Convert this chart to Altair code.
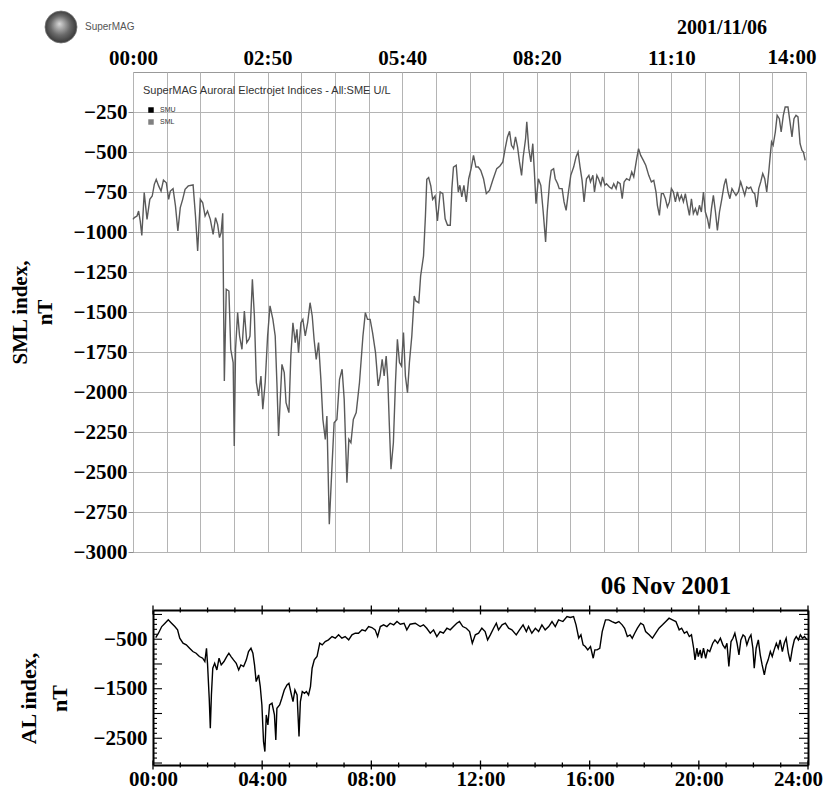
import altair as alt
import pandas as pd

# ---------------- data ----------------
# SuperMAG SML index, minutes after 00:00 UT on 2001-11-06
SML_MIN = [0, 1.7, 5, 7, 9, 11, 14, 17.5, 21, 24, 26.6, 29, 32, 35, 38, 41.6, 44.5, 46.6, 50, 53,
           56, 59, 62, 65, 69, 75, 78, 80.7, 84, 87, 90, 93, 96.5, 100, 103, 105.6, 108, 110, 112, 114,
           116.4, 119.7, 122, 125, 126.4, 128, 130.6, 133, 136, 139, 142, 144.7, 146, 149, 151.5, 154,
           156.7, 159.7, 162, 165, 168, 171, 174.6, 177.5, 179.6, 181.7, 183.8, 185.9, 188.8, 191,
           194.6, 197, 199.6, 202.5, 204.6, 206.6, 209.6, 212, 215, 218, 221, 223.7, 226, 228.7,
           231.6, 234.5, 237, 240, 242, 245, 248, 251, 254.5, 257.8, 261, 263.6, 267, 269.4, 272, 275,
           278.6, 282.7, 287, 290, 292.7, 296, 299, 302.7, 306, 308.5, 311, 313.5, 316, 318, 320, 322,
           325, 327.6, 330, 332.6, 335, 337.6, 340, 342.6, 345, 348, 351, 353, 356.7, 359, 362.6, 365,
           366.7, 369, 371.7, 374, 377, 380,
           383.4, 386.7, 389.6, 392.6, 396, 398, 400, 403.4, 406, 408, 410.4, 413, 416, 419, 422, 425,
           428, 431, 434, 437.5, 441, 445, 449, 454, 458, 461.6, 464.5, 467.4, 470, 472.4, 475, 477.4,
           480, 482.4, 485, 487, 490, 491.5, 494, 496.6, 499, 501, 503, 506, 509, 512, 515, 517, 520,
           522, 525, 527, 530, 532, 535.6, 538, 540.6, 543.5, 546.4, 550, 553, 555.5, 558, 560.5, 563,
           566, 569, 571, 574, 576, 579, 581, 584, 586, 589, 591, 594.6, 597.6, 600, 603, 605, 608,
           610.6, 613, 616, 619.6, 622.5, 625, 628.7, 631, 633.7, 637, 640, 643.7, 647, 650, 652.8,
           654.5, 657, 659.5, 662, 664.5, 667, 669.5, 672, 674.5, 677, 679.5, 682, 684.5, 687, 689.4,
           692, 694.5, 697, 699.4, 702, 704.4, 707, 709.4, 712, 714.4, 717, 719.4, 722, 724.4, 727,
           729.4, 732, 735, 737.7, 740, 742.7, 745, 747.6, 750, 752.6, 755.5, 758.5, 761, 763.5, 766,
           768.5, 771, 773.5, 776, 778.5, 781, 783.5, 786, 788.5, 791, 793.5, 795, 797, 799, 801.7,
           804, 806.7, 809, 811.7, 814, 817.5, 820, 822.5, 825, 827.5, 830, 832.6, 835, 836.8, 839]
SML_VAL = [-921, -910, -900, -869, -931, -1021, -754, -921, -796, -775, -702, -671, -712, -744, -675,
           -692, -796, -744, -729, -837, -994, -848, -796, -733, -712, -706, -900, -1119, -796, -817,
           -900, -869, -921, -1015, -910, -952, -1035, -1004, -883, -1931, -1358, -1369, -1733, -1816,
           -2337, -1733, -1504, -1650, -1733, -1494, -1691, -1670, -1650, -1296, -1525, -1941, -2025,
           -1900, -2108, -1941, -1650, -1462, -1546, -1650, -1941, -2275, -2046, -1827, -1879, -2067,
           -2129, -1775, -1567, -1691, -1608, -1754, -1567, -1546, -1650, -1567, -1442, -1525, -1670,
           -1796, -1691, -1921, -2171, -2296, -2150, -2827, -2504, -2192, -2171, -1921, -1858, -2046,
           -2567, -2296, -2317, -2171, -2129, -1941, -1650, -1504, -1546, -1546, -1629, -1754, -1962,
           -1900, -1796, -1900, -1775, -1921, -2212, -2483, -2317, -1941, -1670, -1816, -1837, -1629,
           -1900, -2004, -1816, -1650, -1400, -1431, -1442, -1275, -1150, -900, -671, -660, -712, -796,
           -775, -931,
           -750, -760, -917, -958, -958, -729, -594, -583, -750, -708, -781, -708, -812, -667, -604,
           -521, -594, -594, -615, -667, -760, -740, -677, -604, -587, -562, -479, -406, -371, -458,
           -479, -406, -469, -562, -646, -531, -417, -312, -479, -562, -448, -625, -823, -667, -708,
           -875, -1062, -875, -687, -615, -604, -667, -698, -729, -729, -812, -865, -750, -646, -594,
           -531, -500, -594, -677, -812, -667, -646, -687, -646, -750, -646, -667, -708, -656, -708,
           -698, -719, -729, -698, -729, -687, -698, -792, -687, -667, -677, -625, -656, -542, -479,
           -521, -552, -583, -646, -687, -677, -750, -833, -896, -760, -760, -792, -844, -812, -729,
           -750, -812, -750, -802, -771, -812, -760, -833, -896, -792, -885, -854, -896, -833, -875,
           -750, -875, -917, -979, -854, -771, -875, -990, -875, -792, -708, -667, -750, -792, -729,
           -750, -771, -750, -687, -729, -771, -719, -729, -719, -750, -760, -844, -729, -687, -635,
           -667, -750, -625, -542, -437, -458, -375, -271, -292, -375, -271, -219, -219, -312, -406,
           -292, -271, -281, -448, -490, -500, -552]

# AL index, hours UT on 06 Nov 2001
AL_HOUR = [0.1, 0.2, 0.32, 0.44, 0.56, 0.68, 0.8, 0.9, 0.98, 1.1, 1.22, 1.34, 1.46, 1.58, 1.7, 1.82,
           1.9, 1.96, 2.0, 2.06, 2.1, 2.14, 2.19, 2.26, 2.34, 2.42, 2.5, 2.6, 2.7, 2.78, 2.86, 2.95,
           3.05, 3.14, 3.22, 3.32, 3.42, 3.5, 3.59, 3.66, 3.72, 3.78, 3.87, 3.93, 3.99, 4.05, 4.1,
           4.15, 4.21, 4.27, 4.36, 4.45, 4.5, 4.54, 4.64, 4.72, 4.81, 4.91, 4.98, 5.06, 5.13, 5.2,
           5.28, 5.35, 5.4, 5.47, 5.55, 5.62, 5.7, 5.77, 5.83, 5.91, 6.01, 6.11, 6.2, 6.31, 6.43, 6.56,
           6.68, 6.8, 6.92, 7.04, 7.17, 7.29, 7.41, 7.53, 7.66, 7.78, 7.9, 8.02, 8.14, 8.23, 8.33,
           8.45, 8.57, 8.69, 8.82, 8.94, 9.06, 9.2, 9.3,
           9.42, 9.61, 9.79, 9.91, 10.03, 10.16, 10.28, 10.4, 10.52, 10.64, 10.77, 10.89, 11.01,
           11.13, 11.23, 11.35, 11.48, 11.6, 11.7, 11.81, 11.93, 12.05, 12.17, 12.26, 12.36, 12.48,
           12.58, 12.66, 12.79, 12.91, 13.03, 13.15, 13.31, 13.43, 13.56, 13.68, 13.76, 13.88, 14.01,
           14.13, 14.25, 14.37, 14.5, 14.62, 14.74, 14.86, 15.02, 15.17, 15.29, 15.41, 15.5, 15.6,
           15.68, 15.76, 15.84, 15.93, 16.03, 16.13, 16.19, 16.27, 16.37, 16.46, 16.58, 16.7, 16.82,
           16.95, 17.07, 17.19, 17.28, 17.38, 17.48, 17.56, 17.65, 17.75, 17.87, 17.97, 18.05, 18.18,
           18.3, 18.42, 18.54, 18.67, 18.79, 18.91, 19.03, 19.16, 19.28, 19.37, 19.47, 19.56, 19.65,
           19.73, 19.81, 19.86, 19.93, 19.98, 20.05, 20.1, 20.17, 20.25, 20.32, 20.4, 20.51, 20.59,
           20.69, 20.79, 20.88, 20.96, 21.03, 21.1, 21.18, 21.25, 21.32, 21.4, 21.47, 21.54, 21.62,
           21.69, 21.76, 21.84, 21.91, 21.98, 22.03, 22.1, 22.18, 22.25, 22.32, 22.4, 22.47, 22.54,
           22.62, 22.69, 22.76, 22.84, 22.91, 22.98, 23.06, 23.13, 23.2, 23.28, 23.35, 23.43, 23.5,
           23.57, 23.65, 23.72, 23.8, 23.87, 23.97]
AL_VAL = [-470, -379, -244, -177, -109, -177, -244, -311, -480, -581, -614, -682, -749, -783, -850,
          -884, -951, -682, -1019, -1692, -2298, -1625, -1086, -985, -1120, -884, -1019, -951, -850,
          -783, -850, -917, -985, -1120, -1019, -1052, -917, -749, -682, -783, -1019, -1355, -1221,
          -1456, -1827, -2567, -2769, -2029, -2231, -1827, -1793, -2029, -2534, -1894, -1827, -1692,
          -1524, -1423, -1389, -1591, -1759, -1524, -1625, -2466, -1759, -1557, -1591, -1557, -1625,
          -1456, -1086, -917, -850, -581, -614, -547, -513, -446, -480, -412, -480, -446, -513, -412,
          -379, -379, -311, -332, -244, -264, -311, -446, -244, -210, -244, -177, -210, -143, -197,
          -177, -311,
          -197, -177, -244, -210, -278, -379, -311, -446, -345, -379, -278, -311, -244, -177, -143,
          -244, -278, -345, -581, -412, -379, -278, -345, -513, -412, -278, -177, -311, -210, -177,
          -278, -311, -412, -311, -210, -345, -244, -379, -278, -345, -210, -311, -244, -143, -244,
          -109, -143, -42, -62, -42, -210, -480, -412, -614, -648, -715, -648, -884, -715, -715, -682,
          -345, -109, -109, -143, -177, -143, -210, -278, -446, -412, -480, -379, -278, -177, -210,
          -345, -412, -480, -379, -278, -210, -143, -76, -109, -143, -311, -278, -379, -345, -446,
          -412, -682, -917, -682, -850, -715, -884, -682, -884, -715, -749, -581, -513, -581, -480,
          -614, -682, -581, -1052, -547, -480, -379, -581, -816, -513, -412, -446, -614, -480, -412,
          -682, -1086, -682, -513, -816, -1019, -1221, -1019, -917, -749, -850, -715, -581, -682,
          -513, -749, -581, -480, -783, -951, -682, -513, -446, -513, -412, -480, -446, -513]

# axis ticks / labels
TOP_GRID_MIN = list(range(0, 841, 42))
TOP_LABEL_STEP = 168
TOP_LABELS = ["00:00", "02:50", "05:40", "08:20", "11:10", ""]
TOP_END_MIN = [840]
TOP_END_LABEL = ["14:00"]
SML_TICKS = list(range(-3000, 0, 250))
AL_LABEL_HOURS = [0, 4, 8, 12, 16, 20]
AL_LABELS = ["00:00", "04:00", "08:00", "12:00", "16:00", "20:00"]
AL_END_HOUR = [24]
AL_END_LABEL = ["24:00"]
AL_MINOR_HOURS = list(range(0, 25))
AL_Y_LABELS = [-2500, -1500, -500]
AL_Y_MINOR = list(range(-3000, 1, 100))

SERIF = "Liberation Serif"
SANS = "Liberation Sans"

sml_df = pd.DataFrame({"m": SML_MIN, "v": SML_VAL})
al_df = pd.DataFrame({"h": AL_HOUR, "v": AL_VAL})
hour_df = pd.DataFrame({"h": AL_MINOR_HOURS, "major": [h % 4 == 0 for h in AL_MINOR_HOURS]})
ytick_df = pd.DataFrame({"v": AL_Y_MINOR, "major": [v % 500 == 0 for v in AL_Y_MINOR]})
top_end_df = pd.DataFrame({"m": TOP_END_MIN, "t": TOP_END_LABEL})
al_end_df = pd.DataFrame({"h": AL_END_HOUR, "t": AL_END_LABEL})


def note(text, x, y, **kw):
    return alt.Chart(pd.DataFrame({"t": [text]})).mark_text(**kw).encode(
        text="t:N", x=alt.value(x), y=alt.value(y))


def js_list(items):
    return "[" + ",".join("'" + s + "'" for s in items) + "]"


# ---------------- top panel: SML ----------------
W1, H1 = 673, 480
TLP = 4
sx = alt.Scale(domain=[0, 840], nice=False, zero=False)
top_expr = ("datum.value % {s} == 0 ? {lst}[round(datum.value / {s})] : ''"
            .format(s=TOP_LABEL_STEP, lst=js_list(TOP_LABELS)))

sml_line = alt.Chart(sml_df).mark_line(color="#5a5a5a", strokeWidth=1.4).encode(
    x=alt.X("m:Q", scale=sx,
            axis=alt.Axis(orient="top", values=TOP_GRID_MIN, labelExpr=top_expr, grid=True,
                          gridColor="#b4b4b4", gridWidth=1, ticks=False, tickSize=0, domain=False,
                          labelFont=SERIF, labelFontWeight="bold", labelFontSize=21,
                          labelColor="black", labelPadding=TLP, labelOverlap=False,
                          labelFlush=False, title=None)),
    y=alt.Y("v:Q", scale=alt.Scale(domain=[-3000, 0], nice=False, zero=False),
            axis=alt.Axis(values=SML_TICKS, format="d", grid=True, gridColor="#b4b4b4",
                          gridWidth=1, ticks=True, tickSize=5, tickColor="#8a8a8a", domain=False,
                          labelFont=SERIF, labelFontWeight="bold", labelFontSize=21,
                          labelColor="black", labelPadding=1, labelOverlap=False,
                          title=["SML index,", "nT"], titleFont=SERIF, titleFontWeight="bold",
                          titleFontSize=21, titleLineHeight=25, titlePadding=18,
                          titleColor="black")),
)

# last top time label, drawn like the axis labels but pulled a little inward
top_end = alt.Chart(top_end_df).mark_text(
    align="center", baseline="bottom", dx=-14, font=SERIF, fontWeight="bold", fontSize=21,
    color="black",
).encode(x=alt.X("m:Q", scale=sx, axis=None), y=alt.value(-TLP), text="t:N")

globe = alt.Chart(pd.DataFrame({"t": ["globe"]})).mark_point(
    shape="circle", filled=True, size=1024, opacity=1,
    fill=alt.RadialGradient(gradient="radial", x1=0.45, y1=0.4, x2=0.5, y2=0.5, r1=0, r2=0.55,
                            stops=[alt.GradientStop(color="#d8d8d8", offset=0),
                                   alt.GradientStop(color="#6a6a6a", offset=0.55),
                                   alt.GradientStop(color="#2e2e2e", offset=1)]),
    stroke="#777", strokeWidth=0.8,
).encode(x=alt.value(-72), y=alt.value(-45))

top = alt.layer(
    sml_line,
    top_end,
    globe,
    note("SuperMAG", -48, -42, align="left", baseline="alphabetic", font=SANS, fontSize=10,
         color="#555"),
    note("2001/11/06", 589, -38, align="center", baseline="alphabetic", font=SERIF,
         fontWeight="bold", fontSize=20, color="black"),
    note("SuperMAG Auroral Electrojet Indices - All:SME U/L", 10, 22, align="left",
         baseline="alphabetic", font=SANS, fontSize=11, color="#333"),
    alt.Chart(pd.DataFrame({"t": ["SMU"]})).mark_square(size=30, color="black", opacity=1)
       .encode(x=alt.value(18), y=alt.value(38)),
    alt.Chart(pd.DataFrame({"t": ["SML"]})).mark_square(size=30, color="#808080", opacity=1)
       .encode(x=alt.value(18), y=alt.value(50)),
    note("SMU", 27, 38, align="left", baseline="middle", font=SANS, fontSize=7, color="#333"),
    note("SML", 27, 50, align="left", baseline="middle", font=SANS, fontSize=7, color="#333"),
).resolve_axis(x="independent").properties(
    width=W1, height=H1, view=alt.ViewBackground(stroke="#999", strokeWidth=1))

# ---------------- bottom panel: AL ----------------
W2, H2 = 675, 155
X0 = 20
LP = 3
bx = alt.Scale(domain=[0, 24], range=[X0, W2], nice=False, zero=False)
by = alt.Scale(domain=[-3040, 90], nice=False, zero=False)
al_expr = "{lst}[round(datum.value / 4)]".format(lst=js_list(AL_LABELS))

al_line = alt.Chart(al_df).mark_line(color="black", strokeWidth=1.4).encode(
    x=alt.X("h:Q", scale=bx,
            axis=alt.Axis(orient="bottom", values=AL_LABEL_HOURS, labelExpr=al_expr, ticks=False,
                          tickSize=0, domain=True, domainColor="black", domainWidth=2, grid=False,
                          labelFont=SERIF, labelFontWeight="bold", labelFontSize=21,
                          labelColor="black", labelPadding=LP, labelOverlap=False,
                          labelFlush=False, title=None)),
    y=alt.Y("v:Q", scale=by,
            axis=alt.Axis(orient="left", offset=-X0, values=AL_Y_LABELS, format="d", ticks=False,
                          tickSize=0, domain=True, domainColor="black", domainWidth=2, grid=False,
                          labelFont=SERIF, labelFontWeight="bold", labelFontSize=21,
                          labelColor="black", labelPadding=6, labelOverlap=False,
                          title=["AL index,", "nT"], titleFont=SERIF, titleFontWeight="bold",
                          titleFontSize=22, titleLineHeight=31, titlePadding=22, titleY=88,
                          titleColor="black")),
)

al_frame = alt.Chart(al_df).mark_line(opacity=0).encode(
    x=alt.X("h:Q", scale=bx,
            axis=alt.Axis(orient="top", labels=False, ticks=False, grid=False, domain=True,
                          domainColor="black", domainWidth=2, title=None)),
    y=alt.Y("v:Q", scale=by,
            axis=alt.Axis(orient="right", labels=False, ticks=False, grid=False, domain=True,
                          domainColor="black", domainWidth=2, title=None)),
)

# last time label, pulled slightly inward so the page does not overflow
al_end = alt.Chart(al_end_df).mark_text(
    align="right", baseline="top", dx=15, font=SERIF, fontWeight="bold", fontSize=21,
    color="black",
).encode(x=alt.X("h:Q", scale=bx, axis=None), y=alt.value(H2 + LP + 1), text="t:N")


def xticks(major, ypos, size):
    return alt.Chart(hour_df).transform_filter(
        "datum.major" if major else "!datum.major"
    ).mark_tick(size=size, thickness=1.3, color="black", opacity=1).encode(
        x=alt.X("h:Q", scale=bx, axis=None), y=alt.value(ypos))


def yticks(major, xpos, size):
    return alt.Chart(ytick_df).transform_filter(
        "datum.major" if major else "!datum.major"
    ).mark_tick(size=size, thickness=1.1, color="black", opacity=1).encode(
        y=alt.Y("v:Q", scale=by, axis=None), x=alt.value(xpos))


bottom = alt.layer(
    al_line,
    al_frame,
    xticks(False, 0, 5), xticks(True, 0, 9),
    xticks(False, H2, 5), xticks(True, H2, 9),
    yticks(False, X0 + 2, 4), yticks(True, X0 + 4.5, 9),
    yticks(False, W2 - 2, 4), yticks(True, W2 - 4.5, 9),
    al_end,
    note("06 Nov 2001", 533, -16, align="center", baseline="alphabetic", font=SERIF,
         fontWeight="bold", fontSize=25, color="black"),
).resolve_axis(x="independent", y="independent").properties(width=W2, height=H2)

chart = alt.vconcat(top, bottom, spacing=58, bounds="flush").properties(
    padding={"left": 0, "top": 0, "right": 0, "bottom": 0},
    background="white",
).configure_view(stroke=None)

chart.save("out.html", embed_options={"renderer": "svg", "actions": False})
